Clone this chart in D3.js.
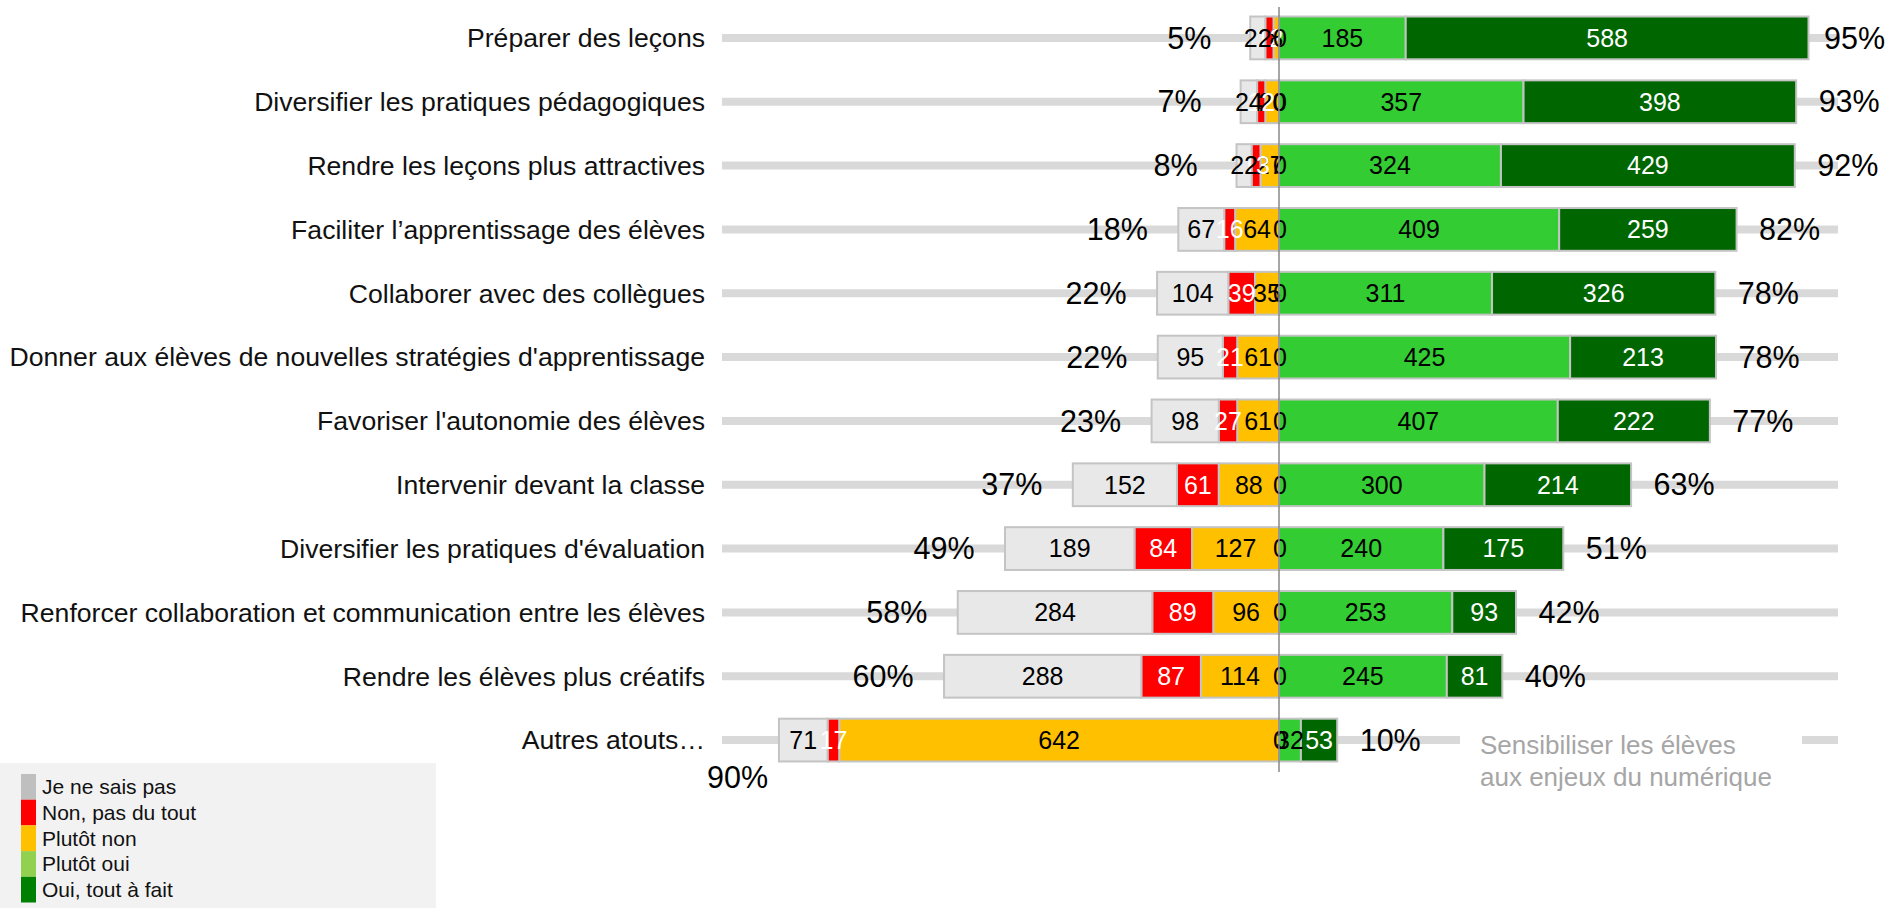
<!DOCTYPE html>
<meta charset="utf-8">
<style>
html, body {
  margin: 0;
  padding: 0;
  background: #fff;
}
svg text {
  font-family: "Liberation Sans", Arial, sans-serif;
}
.track {
  stroke: #d9d9d9;
  stroke-width: 8px;
}
.seg rect {
  stroke: #c4c4c4;
  stroke-width: 2px;
}
</style>
<div id="chart"></div>
<script src="https://cdnjs.cloudflare.com/ajax/libs/d3/7.8.5/d3.min.js"></script>
<script type="text/javascript">

// Data, rows from top to bottom
var categories = [
  "Préparer des leçons",
  "Diversifier les pratiques pédagogiques",
  "Rendre les leçons plus attractives",
  "Faciliter l’apprentissage des élèves",
  "Collaborer avec des collègues",
  "Donner aux élèves de nouvelles stratégies d'apprentissage",
  "Favoriser l'autonomie des élèves",
  "Intervenir devant la classe",
  "Diversifier les pratiques d'évaluation",
  "Renforcer collaboration et communication entre les élèves",
  "Rendre les élèves plus créatifs",
  "Autres atouts…"
];
var jeNeSaisPas = [22, 24, 22, 67, 104, 95, 98, 152, 189, 284, 288, 71];
var nonPasDuTout = [12, 12, 13, 16, 39, 21, 27, 61, 84, 89, 87, 17];
var plutotNon = [8, 20, 27, 64, 35, 61, 61, 88, 127, 96, 114, 642];
var neutre = [0, 0, 0, 0, 0, 0, 0, 0, 0, 0, 0, 0];
var plutotOui = [185, 357, 324, 409, 311, 425, 407, 300, 240, 253, 245, 32];
var ouiToutAFait = [588, 398, 429, 259, 326, 213, 222, 214, 175, 93, 81, 53];

var legendLabels = ["Je ne sais pas", "Non, pas du tout", "Plutôt non", "Plutôt oui", "Oui, tout à fait"];
var legendColors = ["#bfbfbf", "#ff0000", "#ffc000", "#92d050", "#008000"];
var extraLabel = ["Sensibiliser les élèves", "aux enjeux du numérique"];

var width = 1890, height = 908;

var svg = d3.select("#chart").append("svg")
    .attr("width", width)
    .attr("height", height);

// scales
var x = d3.scaleLinear().domain([-800, 800]).range([731, 1827]);
var y = d3.scaleBand().domain(categories).range([6, 772]).paddingInner(0.33).paddingOuter(0.165);
var cy = function(c) { return y(c) + y.bandwidth() / 2; };

var trackLeft = 722, trackRight = 1838, labelRight = 705;

// build the stacks (negative side goes outward from the centre)
var rows = categories.map(function(c, i) {
  var segs = [];
  var neg = [
    {v: plutotNon[i], fill: "#ffc000", color: "#000"},
    {v: nonPasDuTout[i], fill: "#ff0000", color: "#fff"},
    {v: jeNeSaisPas[i], fill: "#e8e8e8", color: "#000"}
  ];
  var acc = 0;
  neg.forEach(function(s) {
    segs.push({x0: -acc - s.v, x1: -acc, v: s.v, fill: s.fill, color: s.color});
    acc += s.v;
  });
  var negTotal = acc;
  var pos = [
    {v: plutotOui[i], fill: "#33cc33", color: "#000"},
    {v: ouiToutAFait[i], fill: "#006600", color: "#fff"}
  ];
  acc = 0;
  pos.forEach(function(s) {
    segs.push({x0: acc, x1: acc + s.v, v: s.v, fill: s.fill, color: s.color});
    acc += s.v;
  });
  var posTotal = acc;
  return {cat: c, segs: segs, neg: negTotal, pos: posTotal, zero: neutre[i]};
});

// background tracks
svg.append("g").selectAll("line")
    .data(categories)
  .enter().append("line")
    .attr("class", "track")
    .attr("x1", trackLeft)
    .attr("x2", trackRight)
    .attr("y1", cy)
    .attr("y2", cy);

// category labels
svg.append("g").selectAll("text")
    .data(categories)
  .enter().append("text")
    .attr("x", labelRight)
    .attr("y", cy)
    .attr("dy", "0.35em")
    .attr("text-anchor", "end")
    .style("font-size", "26.6px")
    .style("fill", "#111")
    .text(function(d) { return d; });

// bars
var row = svg.append("g").selectAll("g")
    .data(rows)
  .enter().append("g")
    .attr("class", "seg");

row.selectAll("rect")
    .data(function(d) { return d.segs.map(function(s) { s.cat = d.cat; return s; }); })
  .enter().append("rect")
    .attr("x", function(d) { return x(d.x0); })
    .attr("width", function(d) { return x(d.x1) - x(d.x0); })
    .attr("y", function(d) { return y(d.cat); })
    .attr("height", y.bandwidth())
    .style("fill", function(d) { return d.fill; });

// centre line
svg.append("line")
    .attr("x1", x(0)).attr("x2", x(0))
    .attr("y1", 7).attr("y2", 772)
    .style("stroke", "#888")
    .style("stroke-width", 1.5);

// value labels
row.selectAll("text.val")
    .data(function(d) { return d.segs.map(function(s) { s.cat = d.cat; return s; }); })
  .enter().append("text")
    .attr("class", "val")
    .attr("x", function(d) { return (x(d.x0) + x(d.x1)) / 2; })
    .attr("y", function(d) { return cy(d.cat); })
    .attr("dy", "0.35em")
    .attr("text-anchor", "middle")
    .style("font-size", "25px")
    .style("fill", function(d) { return d.color; })
    .text(function(d) { return d.v; });

// the neutral (zero) category sits on the centre line
row.append("text")
    .attr("x", x(0) + 1)
    .attr("y", function(d) { return cy(d.cat); })
    .attr("dy", "0.35em")
    .attr("text-anchor", "middle")
    .style("font-size", "25px")
    .style("fill", "#000")
    .text(function(d) { return d.zero; });

// percentages
var pct = function(a, d) { return Math.round(a / (d.neg + d.pos) * 100) + "%"; };

row.append("text")
    .attr("class", "pneg")
    .attr("x", function(d) { return x(-d.neg) - 61; })
    .attr("y", function(d) { return cy(d.cat); })
    .attr("dy", "0.35em")
    .attr("text-anchor", "middle")
    .style("font-size", "30.5px")
    .style("fill", "#000")
    .text(function(d) { return pct(d.neg, d); })
    .each(function() {
      // push the label away from the category text if they collide
      var b = this.getBBox();
      if (b.x < labelRight + 2) {
        d3.select(this)
            .attr("x", labelRight + 2 + b.width / 2)
            .attr("y", +d3.select(this).attr("y") + 37);
      }
    });

row.append("text")
    .attr("class", "ppos")
    .attr("x", function(d) { return x(d.pos) + 53; })
    .attr("y", function(d) { return cy(d.cat); })
    .attr("dy", "0.35em")
    .attr("text-anchor", "middle")
    .style("font-size", "30.5px")
    .style("fill", "#000")
    .text(function(d) { return pct(d.pos, d); })
    .each(function() {
      var b = this.getBBox();
      if (b.x + b.width > width - 5) {
        d3.select(this).attr("x", width - 5 - b.width / 2);
      }
    });

// grey note over the last track
var lastY = cy(categories[categories.length - 1]);
svg.append("rect")
    .attr("x", 1460).attr("y", lastY - 22)
    .attr("width", 342).attr("height", 70)
    .style("fill", "#fff");
svg.append("g").selectAll("text")
    .data(extraLabel)
  .enter().append("text")
    .attr("x", 1480)
    .attr("y", function(d, i) { return lastY + 14 + i * 32; })
    .style("font-size", "26px")
    .style("fill", "#a6a6a6")
    .text(function(d) { return d; });

// legend
var legend = svg.append("g").attr("transform", "translate(0,763)");
legend.append("rect")
    .attr("width", 436).attr("height", 150)
    .style("fill", "#f2f2f2");
legend.selectAll("rect.sw")
    .data(legendLabels)
  .enter().append("rect")
    .attr("class", "sw")
    .attr("x", 21)
    .attr("y", function(d, i) { return 11 + i * 25.7; })
    .attr("width", 15)
    .attr("height", 25.7)
    .style("fill", function(d, i) { return legendColors[i]; });
legend.selectAll("text")
    .data(legendLabels)
  .enter().append("text")
    .attr("x", 42)
    .attr("y", function(d, i) { return 11 + i * 25.7 + 12.85; })
    .attr("dy", "0.35em")
    .style("font-size", "21px")
    .style("fill", "#111")
    .text(function(d) { return d; });

</script>
